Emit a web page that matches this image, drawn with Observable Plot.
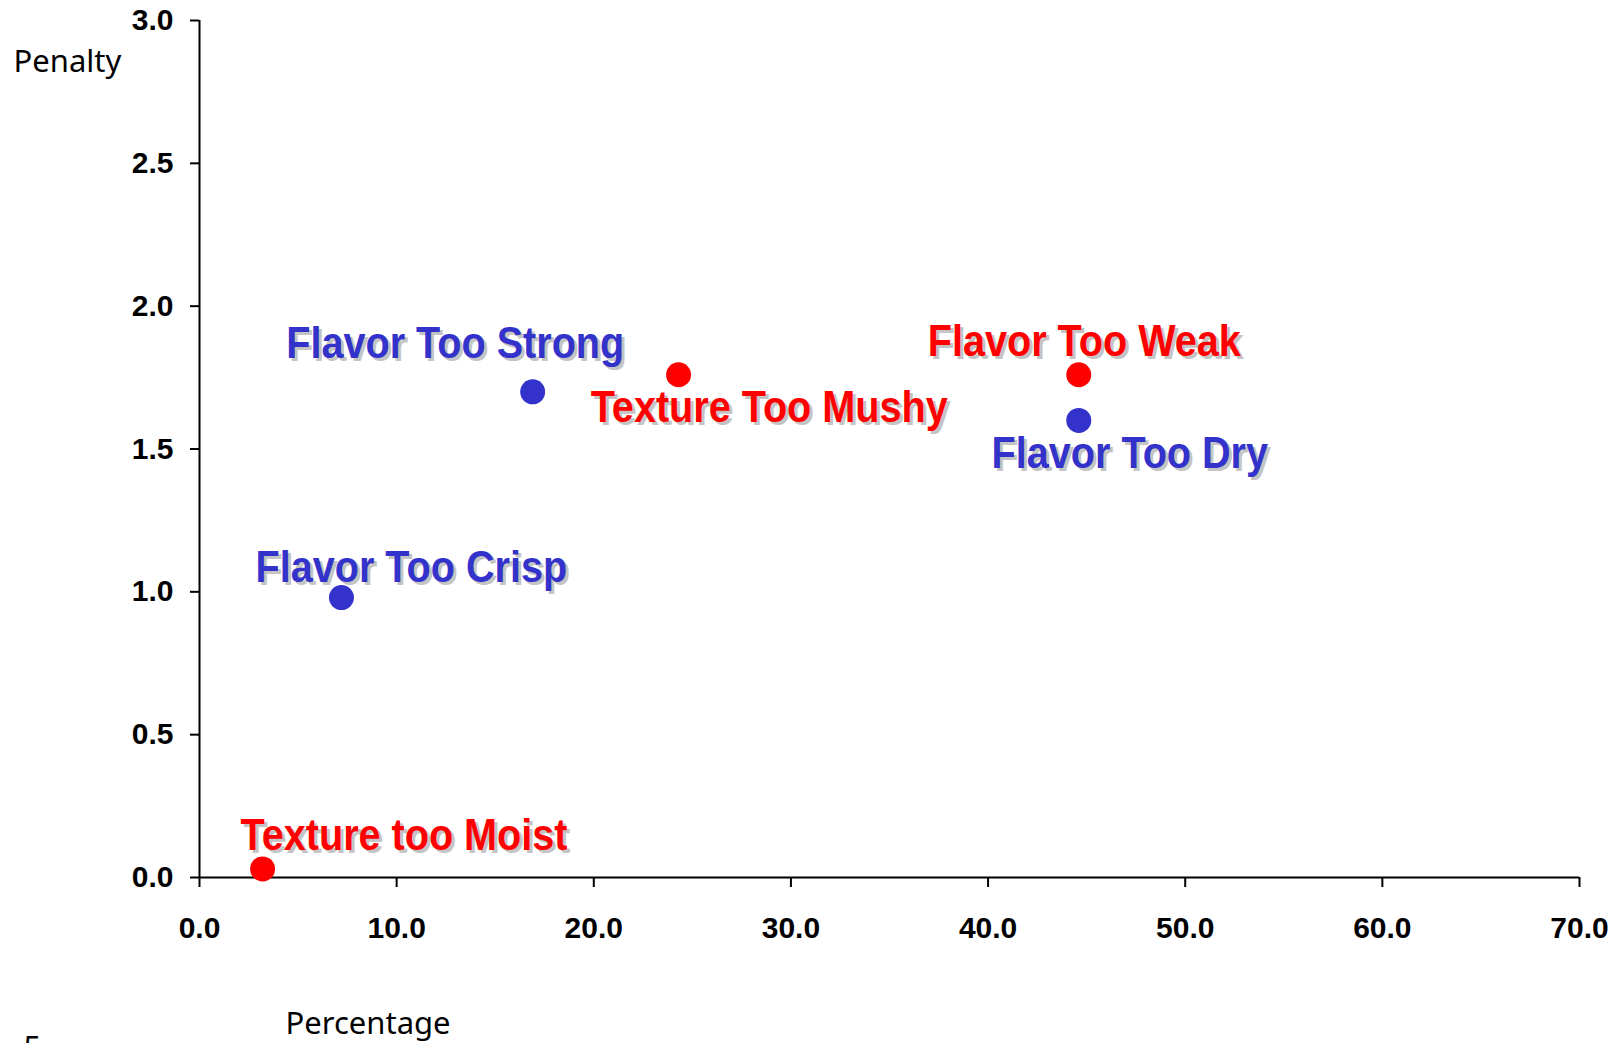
<!DOCTYPE html>
<html>
<head>
<meta charset="utf-8">
<script src="https://cdn.jsdelivr.net/npm/d3@7"></script>
<script src="https://cdn.jsdelivr.net/npm/@observablehq/plot@0.6"></script>
<style>
  html, body { margin: 0; padding: 0; background: #ffffff; }
  #chart { width: 1617px; height: 1043px; overflow: hidden; }
</style>
</head>
<body>
<div id="chart"></div>
<script>
// ---- Data ----
const labels = ["Flavor Too Strong", "Texture Too Mushy", "Flavor Too Weak", "Flavor Too Dry", "Flavor Too Crisp", "Texture too Moist"];
const percentage = [16.9, 24.3, 44.6, 44.6, 7.2, 3.2];
const penalty = [1.70, 1.76, 1.76, 1.60, 0.98, 0.03];
const series = ["Group 1", "Group 2", "Group 2", "Group 1", "Group 1", "Group 2"];
// data-label anchor positions (in axis units)
const labelX = [4.40, 19.84, 36.94, 40.18, 2.84, 2.08];
const labelY = [1.817, 1.593, 1.827, 1.433, 1.033, 0.095];
const xTicks = [0, 10, 20, 30, 40, 50, 60, 70];
const yTicks = [0, 0.5, 1.0, 1.5, 2.0, 2.5, 3.0];
const seriesNames = ["Group 1", "Group 2"];
const seriesColors = ["#3333CC", "#FF0000"];

const rows = labels.map((name, i) => ({
  name, x: percentage[i], y: penalty[i], s: series[i], lx: labelX[i], ly: labelY[i]
}));

const W = 1617, H = 1043;
const sansBold = "'Liberation Sans', Arial, Helvetica, sans-serif";
const casual = "'Noto Sans', 'Open Sans', sans-serif";

const chart = Plot.plot({
  width: W,
  height: H,
  marginLeft: 199,
  marginRight: 38,
  marginTop: 20,
  marginBottom: 166,
  style: { background: "#ffffff", fontFamily: sansBold, color: "#000" },
  x: { domain: [0, 70] },
  y: { domain: [0, 3] },
  color: { domain: seriesNames, range: seriesColors },
  marks: [
    Plot.axisX({
      ticks: xTicks, tickFormat: d3.format(".1f"), tickSize: 10, tickPadding: 29,
      fontSize: 30, fontWeight: "bold", fontFamily: sansBold, strokeWidth: 2, label: null
    }),
    Plot.axisY({
      ticks: yTicks, tickFormat: d3.format(".1f"), tickSize: 9, tickPadding: 17,
      fontSize: 30, fontWeight: "bold", fontFamily: sansBold, strokeWidth: 2, label: null
    }),
    Plot.ruleY([0], { stroke: "#000", strokeWidth: 2 }),
    Plot.ruleX([0], { stroke: "#000", strokeWidth: 2 }),
    Plot.dot(rows, { x: "x", y: "y", r: 12.5, fill: "s", stroke: null }),
    // label shadows
    Plot.text(rows, {
      x: "lx", y: "ly", text: "name", dx: 3, dy: 3, fill: "#c4c4c4",
      textAnchor: "start", lineAnchor: "bottom", fontSize: 44, fontWeight: "bold", fontFamily: sansBold
    }),
    // labels
    Plot.text(rows, {
      x: "lx", y: "ly", text: "name", fill: "s",
      textAnchor: "start", lineAnchor: "bottom", fontSize: 44, fontWeight: "bold", fontFamily: sansBold
    }),
    // axis titles
    Plot.text(["Penalty"], {
      frameAnchor: "top-left", text: d => d, dx: -186, dy: 51,
      textAnchor: "start", lineAnchor: "bottom", fontSize: 31, fontFamily: casual, fill: "#000"
    }),
    Plot.text(["Percentage"], {
      frameAnchor: "bottom-left", text: d => d, dx: 86, dy: 156,
      textAnchor: "start", lineAnchor: "bottom", fontSize: 31, fontFamily: casual, fill: "#000"
    }),
    Plot.text(["5"], {
      frameAnchor: "bottom-left", text: d => d, dx: -176, dy: 158,
      textAnchor: "start", lineAnchor: "top", fontSize: 31, fontFamily: casual, fill: "#000"
    })
  ]
});

document.getElementById("chart").appendChild(chart);

// Condense the data-label glyphs horizontally (the reference uses a narrow bold face)
d3.select(chart).selectAll('g[font-size="44"] text').each(function () {
  const el = d3.select(this);
  const t = el.attr("transform");
  if (t) {
    el.attr("transform", t + " scale(0.9,1)");
  } else {
    const x = +el.attr("x") || 0, y = +el.attr("y") || 0;
    el.attr("x", null).attr("y", null).attr("transform", `translate(${x},${y}) scale(0.9,1)`);
  }
});
</script>
</body>
</html>
